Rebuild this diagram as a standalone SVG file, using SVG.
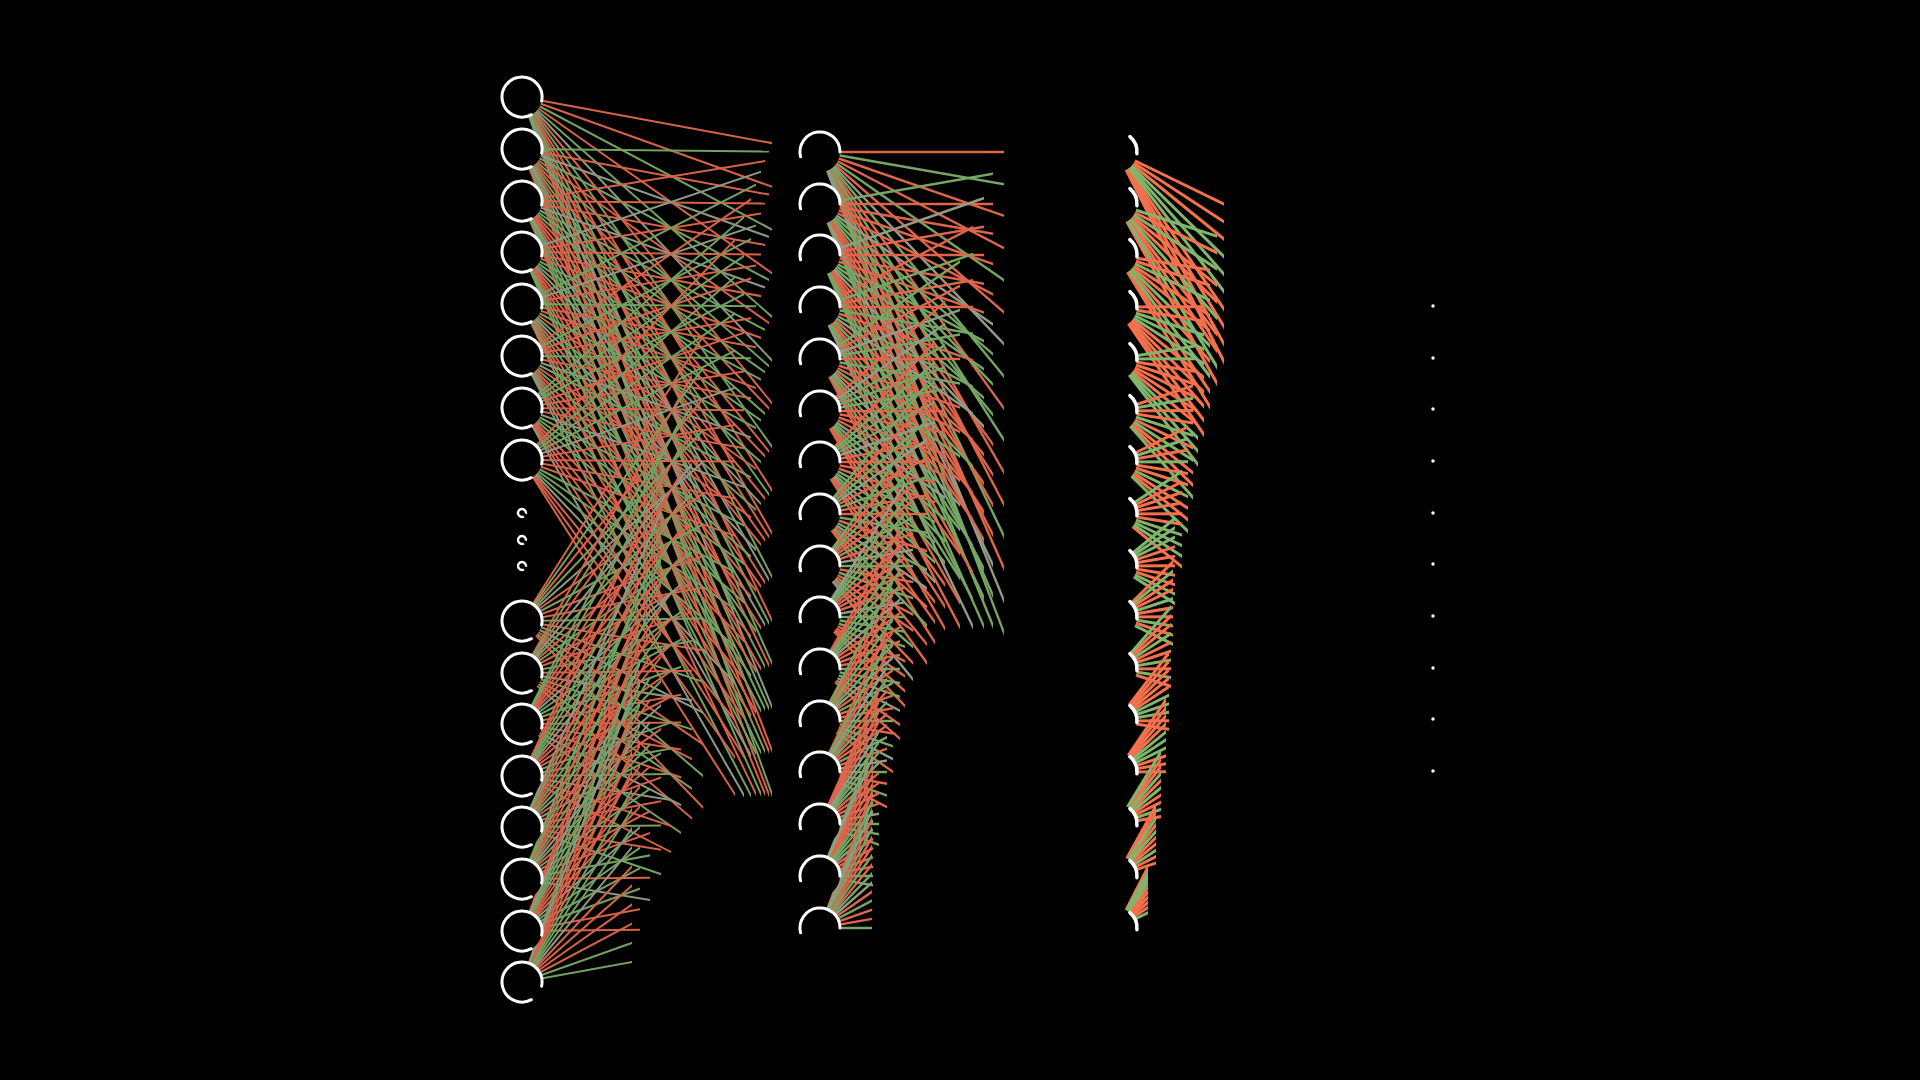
<svg xmlns="http://www.w3.org/2000/svg" xmlns:xlink="http://www.w3.org/1999/xlink" width="1920" height="1080" viewBox="0 0 1920 1080">
<style>
path{fill:none}
.r{stroke:#e96c50}
.g{stroke:#7daf6a}
.y{stroke:#9aa68f}
#b1{stroke-width:2;opacity:.92}
#b2{stroke-width:2.4;opacity:.95}
#b3{stroke-width:3}
#b3 .r{stroke:#f4714d}
#b3 .g{stroke:#80b66c}
.nf{fill:#000}
.ns{fill:none;stroke:#fff;stroke-width:3;stroke-linecap:round}
.ns3{fill:none;stroke:#fff;stroke-width:3.5;stroke-linecap:round}
.ds{fill:none;stroke:#fff;stroke-width:2.4}
.out{fill:#fff}
</style>
<defs>
<g id="n1"><circle class="nf" r="20"/><path class="ns" d="M9.4 17.7A20 20 0 1 1 19.6 4.2"/></g>
<g id="n2"><circle class="nf" r="20"/><path class="ns" d="M-19.4 4.8A20 20 0 1 1 20 0"/></g>
<g id="n3"><circle class="nf" r="20"/><path class="ns3" d="M12.9 -15.3A20 20 0 0 1 19.9 1.7"/></g>
<g id="d1"><path class="ds" d="M1.9 3.5A4 4 0 1 1 3.9 0.8"/></g>
<g id="n4"><circle class="out" r="1.7"/></g>
<clipPath id="a0"><rect width="772" height="1080"/></clipPath>
<clipPath id="a1"><rect width="769" height="1080"/></clipPath>
<clipPath id="a2"><rect width="765" height="1080"/></clipPath>
<clipPath id="a3"><rect width="761" height="1080"/></clipPath>
<clipPath id="a4"><rect width="756" height="1080"/></clipPath>
<clipPath id="a5"><rect width="751" height="1080"/></clipPath>
<clipPath id="a6"><rect width="744" height="1080"/></clipPath>
<clipPath id="a7"><rect width="735" height="1080"/></clipPath>
<clipPath id="a8"><rect width="703" height="1080"/></clipPath>
<clipPath id="a9"><rect width="692" height="1080"/></clipPath>
<clipPath id="a10"><rect width="681" height="1080"/></clipPath>
<clipPath id="a11"><rect width="671" height="1080"/></clipPath>
<clipPath id="a12"><rect width="661" height="1080"/></clipPath>
<clipPath id="a13"><rect width="650" height="1080"/></clipPath>
<clipPath id="a14"><rect width="640" height="1080"/></clipPath>
<clipPath id="a15"><rect width="632" height="1080"/></clipPath>
<clipPath id="b0c"><rect width="1004" height="1080"/></clipPath>
<clipPath id="b1c"><rect width="993" height="1080"/></clipPath>
<clipPath id="b2c"><rect width="984" height="1080"/></clipPath>
<clipPath id="b3c"><rect width="973" height="1080"/></clipPath>
<clipPath id="b4c"><rect width="960" height="1080"/></clipPath>
<clipPath id="b5c"><rect width="945" height="1080"/></clipPath>
<clipPath id="b6c"><rect width="935" height="1080"/></clipPath>
<clipPath id="b7c"><rect width="927" height="1080"/></clipPath>
<clipPath id="b8c"><rect width="913" height="1080"/></clipPath>
<clipPath id="b9c"><rect width="905" height="1080"/></clipPath>
<clipPath id="b10c"><rect width="900" height="1080"/></clipPath>
<clipPath id="b11c"><rect width="893" height="1080"/></clipPath>
<clipPath id="b12c"><rect width="887" height="1080"/></clipPath>
<clipPath id="b13c"><rect width="879" height="1080"/></clipPath>
<clipPath id="b14c"><rect width="873" height="1080"/></clipPath>
<clipPath id="b15c"><rect width="872" height="1080"/></clipPath>
<clipPath id="c0"><rect width="1224" height="1080"/></clipPath>
<clipPath id="c1"><rect width="1217" height="1080"/></clipPath>
<clipPath id="c2"><rect width="1210" height="1080"/></clipPath>
<clipPath id="c3"><rect width="1204" height="1080"/></clipPath>
<clipPath id="c4"><rect width="1198" height="1080"/></clipPath>
<clipPath id="c5"><rect width="1193" height="1080"/></clipPath>
<clipPath id="c6"><rect width="1188" height="1080"/></clipPath>
<clipPath id="c7"><rect width="1182" height="1080"/></clipPath>
<clipPath id="c8"><rect width="1175" height="1080"/></clipPath>
<clipPath id="c9"><rect width="1173" height="1080"/></clipPath>
<clipPath id="c10"><rect width="1171" height="1080"/></clipPath>
<clipPath id="c11"><rect width="1169" height="1080"/></clipPath>
<clipPath id="c12"><rect width="1166" height="1080"/></clipPath>
<clipPath id="c13"><rect width="1161" height="1080"/></clipPath>
<clipPath id="c14"><rect width="1156" height="1080"/></clipPath>
<clipPath id="c15"><rect width="1148" height="1080"/></clipPath>
</defs>
<rect width="1920" height="1080" fill="#000"/>
<g id="connectors">
<g id="b1">
<g clip-path="url(#a0)"><g class="r"><path d="M522 97L820 152"/><path d="M522 97L820 204"/><path d="M522 97L820 307"/><path d="M522 97L820 462"/><path d="M522 97L820 566"/><path d="M522 97L820 617"/><path d="M522 97L820 721"/><path d="M522 97L820 876"/></g><g class="g"><path d="M522 97L820 255"/><path d="M522 97L820 359"/><path d="M522 97L820 514"/><path d="M522 97L820 669"/><path d="M522 97L820 772"/><path d="M522 97L820 928"/></g><g class="y"><path d="M522 97L820 411"/><path d="M522 97L820 824"/></g></g>
<g clip-path="url(#a1)"><g class="r"><path d="M522 149L820 204"/><path d="M522 149L820 359"/><path d="M522 149L820 462"/><path d="M522 149L820 514"/><path d="M522 149L820 617"/><path d="M522 149L820 772"/><path d="M522 149L820 876"/><path d="M522 149L820 928"/></g><g class="g"><path d="M522 149L820 152"/><path d="M522 149L820 307"/><path d="M522 149L820 411"/><path d="M522 149L820 566"/><path d="M522 149L820 721"/><path d="M522 149L820 824"/></g><g class="y"><path d="M522 149L820 255"/><path d="M522 149L820 669"/></g></g>
<g clip-path="url(#a2)"><g class="r"><path d="M522 201L820 152"/><path d="M522 201L820 204"/><path d="M522 201L820 255"/><path d="M522 201L820 514"/><path d="M522 201L820 566"/><path d="M522 201L820 617"/><path d="M522 201L820 669"/><path d="M522 201L820 928"/></g><g class="g"><path d="M522 201L820 359"/><path d="M522 201L820 411"/><path d="M522 201L820 462"/><path d="M522 201L820 772"/><path d="M522 201L820 824"/><path d="M522 201L820 876"/></g><g class="y"><path d="M522 201L820 307"/><path d="M522 201L820 721"/></g></g>
<g clip-path="url(#a3)"><g class="r"><path d="M522 252L820 204"/><path d="M522 252L820 255"/><path d="M522 252L820 307"/><path d="M522 252L820 359"/><path d="M522 252L820 617"/><path d="M522 252L820 669"/><path d="M522 252L820 721"/><path d="M522 252L820 772"/></g><g class="g"><path d="M522 252L820 411"/><path d="M522 252L820 462"/><path d="M522 252L820 514"/><path d="M522 252L820 824"/><path d="M522 252L820 876"/><path d="M522 252L820 928"/></g><g class="y"><path d="M522 252L820 152"/><path d="M522 252L820 566"/></g></g>
<g clip-path="url(#a4)"><g class="r"><path d="M522 304L820 255"/><path d="M522 304L820 359"/><path d="M522 304L820 411"/><path d="M522 304L820 514"/><path d="M522 304L820 669"/><path d="M522 304L820 772"/><path d="M522 304L820 824"/><path d="M522 304L820 928"/></g><g class="g"><path d="M522 304L820 152"/><path d="M522 304L820 307"/><path d="M522 304L820 462"/><path d="M522 304L820 566"/><path d="M522 304L820 721"/><path d="M522 304L820 876"/></g><g class="y"><path d="M522 304L820 204"/><path d="M522 304L820 617"/></g></g>
<g clip-path="url(#a5)"><g class="r"><path d="M522 356L820 152"/><path d="M522 356L820 255"/><path d="M522 356L820 307"/><path d="M522 356L820 411"/><path d="M522 356L820 566"/><path d="M522 356L820 669"/><path d="M522 356L820 721"/><path d="M522 356L820 824"/></g><g class="g"><path d="M522 356L820 204"/><path d="M522 356L820 359"/><path d="M522 356L820 514"/><path d="M522 356L820 617"/><path d="M522 356L820 772"/><path d="M522 356L820 928"/></g><g class="y"><path d="M522 356L820 462"/><path d="M522 356L820 876"/></g></g>
<g clip-path="url(#a6)"><g class="r"><path d="M522 408L820 307"/><path d="M522 408L820 359"/><path d="M522 408L820 411"/><path d="M522 408L820 462"/><path d="M522 408L820 721"/><path d="M522 408L820 772"/><path d="M522 408L820 824"/><path d="M522 408L820 876"/></g><g class="g"><path d="M522 408L820 152"/><path d="M522 408L820 204"/><path d="M522 408L820 255"/><path d="M522 408L820 566"/><path d="M522 408L820 617"/><path d="M522 408L820 669"/></g><g class="y"><path d="M522 408L820 514"/><path d="M522 408L820 928"/></g></g>
<g clip-path="url(#a7)"><g class="r"><path d="M522 460L820 152"/><path d="M522 460L820 411"/><path d="M522 460L820 462"/><path d="M522 460L820 514"/><path d="M522 460L820 566"/><path d="M522 460L820 824"/><path d="M522 460L820 876"/><path d="M522 460L820 928"/></g><g class="g"><path d="M522 460L820 204"/><path d="M522 460L820 255"/><path d="M522 460L820 307"/><path d="M522 460L820 617"/><path d="M522 460L820 669"/><path d="M522 460L820 721"/></g><g class="y"><path d="M522 460L820 359"/><path d="M522 460L820 772"/></g></g>
<g clip-path="url(#a8)"><g class="r"><path d="M522 621L820 152"/><path d="M522 621L820 255"/><path d="M522 621L820 411"/><path d="M522 621L820 514"/><path d="M522 621L820 566"/><path d="M522 621L820 669"/><path d="M522 621L820 824"/><path d="M522 621L820 928"/></g><g class="g"><path d="M522 621L820 204"/><path d="M522 621L820 307"/><path d="M522 621L820 462"/><path d="M522 621L820 617"/><path d="M522 621L820 721"/><path d="M522 621L820 876"/></g><g class="y"><path d="M522 621L820 359"/><path d="M522 621L820 772"/></g></g>
<g clip-path="url(#a9)"><g class="r"><path d="M522 673L820 152"/><path d="M522 673L820 255"/><path d="M522 673L820 411"/><path d="M522 673L820 514"/><path d="M522 673L820 566"/><path d="M522 673L820 669"/><path d="M522 673L820 824"/><path d="M522 673L820 928"/></g><g class="g"><path d="M522 673L820 204"/><path d="M522 673L820 359"/><path d="M522 673L820 462"/><path d="M522 673L820 617"/><path d="M522 673L820 772"/><path d="M522 673L820 876"/></g><g class="y"><path d="M522 673L820 307"/><path d="M522 673L820 721"/></g></g>
<g clip-path="url(#a10)"><g class="r"><path d="M522 724L820 255"/><path d="M522 724L820 307"/><path d="M522 724L820 359"/><path d="M522 724L820 411"/><path d="M522 724L820 669"/><path d="M522 724L820 721"/><path d="M522 724L820 772"/><path d="M522 724L820 824"/></g><g class="g"><path d="M522 724L820 152"/><path d="M522 724L820 204"/><path d="M522 724L820 514"/><path d="M522 724L820 566"/><path d="M522 724L820 617"/><path d="M522 724L820 928"/></g><g class="y"><path d="M522 724L820 462"/><path d="M522 724L820 876"/></g></g>
<g clip-path="url(#a11)"><g class="r"><path d="M522 776L820 152"/><path d="M522 776L820 204"/><path d="M522 776L820 462"/><path d="M522 776L820 514"/><path d="M522 776L820 566"/><path d="M522 776L820 617"/><path d="M522 776L820 876"/><path d="M522 776L820 928"/></g><g class="g"><path d="M522 776L820 255"/><path d="M522 776L820 307"/><path d="M522 776L820 359"/><path d="M522 776L820 669"/><path d="M522 776L820 721"/><path d="M522 776L820 772"/></g><g class="y"><path d="M522 776L820 411"/><path d="M522 776L820 824"/></g></g>
<g clip-path="url(#a12)"><g class="r"><path d="M522 827L820 204"/><path d="M522 827L820 307"/><path d="M522 827L820 359"/><path d="M522 827L820 462"/><path d="M522 827L820 617"/><path d="M522 827L820 721"/><path d="M522 827L820 772"/><path d="M522 827L820 876"/></g><g class="g"><path d="M522 827L820 255"/><path d="M522 827L820 411"/><path d="M522 827L820 514"/><path d="M522 827L820 669"/><path d="M522 827L820 824"/><path d="M522 827L820 928"/></g><g class="y"><path d="M522 827L820 152"/><path d="M522 827L820 566"/></g></g>
<g clip-path="url(#a13)"><g class="r"><path d="M522 879L820 204"/><path d="M522 879L820 307"/><path d="M522 879L820 359"/><path d="M522 879L820 462"/><path d="M522 879L820 617"/><path d="M522 879L820 721"/><path d="M522 879L820 772"/><path d="M522 879L820 876"/></g><g class="g"><path d="M522 879L820 152"/><path d="M522 879L820 255"/><path d="M522 879L820 411"/><path d="M522 879L820 566"/><path d="M522 879L820 669"/><path d="M522 879L820 824"/></g><g class="y"><path d="M522 879L820 514"/><path d="M522 879L820 928"/></g></g>
<g clip-path="url(#a14)"><g class="r"><path d="M522 931L820 152"/><path d="M522 931L820 204"/><path d="M522 931L820 462"/><path d="M522 931L820 514"/><path d="M522 931L820 566"/><path d="M522 931L820 617"/><path d="M522 931L820 876"/><path d="M522 931L820 928"/></g><g class="g"><path d="M522 931L820 307"/><path d="M522 931L820 359"/><path d="M522 931L820 411"/><path d="M522 931L820 721"/><path d="M522 931L820 772"/><path d="M522 931L820 824"/></g><g class="y"><path d="M522 931L820 255"/><path d="M522 931L820 669"/></g></g>
<g clip-path="url(#a15)"><g class="r"><path d="M522 982L820 255"/><path d="M522 982L820 307"/><path d="M522 982L820 359"/><path d="M522 982L820 411"/><path d="M522 982L820 669"/><path d="M522 982L820 721"/><path d="M522 982L820 772"/><path d="M522 982L820 824"/></g><g class="g"><path d="M522 982L820 152"/><path d="M522 982L820 462"/><path d="M522 982L820 514"/><path d="M522 982L820 566"/><path d="M522 982L820 876"/><path d="M522 982L820 928"/></g><g class="y"><path d="M522 982L820 204"/><path d="M522 982L820 617"/></g></g>
</g>
<g id="b2">
<g clip-path="url(#b0c)"><g class="r"><path d="M820 152L1117 152"/><path d="M820 152L1117 255"/><path d="M820 152L1117 307"/><path d="M820 152L1117 411"/><path d="M820 152L1117 566"/><path d="M820 152L1117 669"/><path d="M820 152L1117 721"/><path d="M820 152L1117 824"/></g><g class="g"><path d="M820 152L1117 204"/><path d="M820 152L1117 359"/><path d="M820 152L1117 514"/><path d="M820 152L1117 617"/><path d="M820 152L1117 772"/><path d="M820 152L1117 928"/></g><g class="y"><path d="M820 152L1117 462"/><path d="M820 152L1117 876"/></g></g>
<g clip-path="url(#b1c)"><g class="r"><path d="M820 204L1117 204"/><path d="M820 204L1117 255"/><path d="M820 204L1117 307"/><path d="M820 204L1117 359"/><path d="M820 204L1117 617"/><path d="M820 204L1117 669"/><path d="M820 204L1117 721"/><path d="M820 204L1117 772"/></g><g class="g"><path d="M820 204L1117 152"/><path d="M820 204L1117 462"/><path d="M820 204L1117 514"/><path d="M820 204L1117 566"/><path d="M820 204L1117 876"/><path d="M820 204L1117 928"/></g><g class="y"><path d="M820 204L1117 411"/><path d="M820 204L1117 824"/></g></g>
<g clip-path="url(#b2c)"><g class="r"><path d="M820 255L1117 204"/><path d="M820 255L1117 255"/><path d="M820 255L1117 307"/><path d="M820 255L1117 359"/><path d="M820 255L1117 617"/><path d="M820 255L1117 669"/><path d="M820 255L1117 721"/><path d="M820 255L1117 772"/></g><g class="g"><path d="M820 255L1117 411"/><path d="M820 255L1117 462"/><path d="M820 255L1117 514"/><path d="M820 255L1117 824"/><path d="M820 255L1117 876"/><path d="M820 255L1117 928"/></g><g class="y"><path d="M820 255L1117 152"/><path d="M820 255L1117 566"/></g></g>
<g clip-path="url(#b3c)"><g class="r"><path d="M820 307L1117 152"/><path d="M820 307L1117 255"/><path d="M820 307L1117 307"/><path d="M820 307L1117 411"/><path d="M820 307L1117 566"/><path d="M820 307L1117 669"/><path d="M820 307L1117 721"/><path d="M820 307L1117 824"/></g><g class="g"><path d="M820 307L1117 204"/><path d="M820 307L1117 359"/><path d="M820 307L1117 462"/><path d="M820 307L1117 617"/><path d="M820 307L1117 772"/><path d="M820 307L1117 876"/></g><g class="y"><path d="M820 307L1117 514"/><path d="M820 307L1117 928"/></g></g>
<g clip-path="url(#b4c)"><g class="r"><path d="M820 359L1117 204"/><path d="M820 359L1117 359"/><path d="M820 359L1117 462"/><path d="M820 359L1117 514"/><path d="M820 359L1117 617"/><path d="M820 359L1117 772"/><path d="M820 359L1117 876"/><path d="M820 359L1117 928"/></g><g class="g"><path d="M820 359L1117 152"/><path d="M820 359L1117 307"/><path d="M820 359L1117 411"/><path d="M820 359L1117 566"/><path d="M820 359L1117 721"/><path d="M820 359L1117 824"/></g><g class="y"><path d="M820 359L1117 255"/><path d="M820 359L1117 669"/></g></g>
<g clip-path="url(#b5c)"><g class="r"><path d="M820 411L1117 152"/><path d="M820 411L1117 411"/><path d="M820 411L1117 462"/><path d="M820 411L1117 514"/><path d="M820 411L1117 566"/><path d="M820 411L1117 824"/><path d="M820 411L1117 876"/><path d="M820 411L1117 928"/></g><g class="g"><path d="M820 411L1117 255"/><path d="M820 411L1117 307"/><path d="M820 411L1117 359"/><path d="M820 411L1117 669"/><path d="M820 411L1117 721"/><path d="M820 411L1117 772"/></g><g class="y"><path d="M820 411L1117 204"/><path d="M820 411L1117 617"/></g></g>
<g clip-path="url(#b6c)"><g class="r"><path d="M820 462L1117 152"/><path d="M820 462L1117 411"/><path d="M820 462L1117 462"/><path d="M820 462L1117 514"/><path d="M820 462L1117 566"/><path d="M820 462L1117 824"/><path d="M820 462L1117 876"/><path d="M820 462L1117 928"/></g><g class="g"><path d="M820 462L1117 204"/><path d="M820 462L1117 255"/><path d="M820 462L1117 307"/><path d="M820 462L1117 617"/><path d="M820 462L1117 669"/><path d="M820 462L1117 721"/></g><g class="y"><path d="M820 462L1117 359"/><path d="M820 462L1117 772"/></g></g>
<g clip-path="url(#b7c)"><g class="r"><path d="M820 514L1117 204"/><path d="M820 514L1117 359"/><path d="M820 514L1117 462"/><path d="M820 514L1117 514"/><path d="M820 514L1117 617"/><path d="M820 514L1117 772"/><path d="M820 514L1117 876"/><path d="M820 514L1117 928"/></g><g class="g"><path d="M820 514L1117 152"/><path d="M820 514L1117 255"/><path d="M820 514L1117 411"/><path d="M820 514L1117 566"/><path d="M820 514L1117 669"/><path d="M820 514L1117 824"/></g><g class="y"><path d="M820 514L1117 307"/><path d="M820 514L1117 721"/></g></g>
<g clip-path="url(#b8c)"><g class="r"><path d="M820 566L1117 204"/><path d="M820 566L1117 307"/><path d="M820 566L1117 359"/><path d="M820 566L1117 462"/><path d="M820 566L1117 617"/><path d="M820 566L1117 721"/><path d="M820 566L1117 772"/><path d="M820 566L1117 876"/></g><g class="g"><path d="M820 566L1117 152"/><path d="M820 566L1117 255"/><path d="M820 566L1117 411"/><path d="M820 566L1117 566"/><path d="M820 566L1117 669"/><path d="M820 566L1117 824"/></g><g class="y"><path d="M820 566L1117 514"/><path d="M820 566L1117 928"/></g></g>
<g clip-path="url(#b9c)"><g class="r"><path d="M820 617L1117 359"/><path d="M820 617L1117 411"/><path d="M820 617L1117 462"/><path d="M820 617L1117 514"/><path d="M820 617L1117 772"/><path d="M820 617L1117 824"/><path d="M820 617L1117 876"/><path d="M820 617L1117 928"/></g><g class="g"><path d="M820 617L1117 204"/><path d="M820 617L1117 255"/><path d="M820 617L1117 307"/><path d="M820 617L1117 617"/><path d="M820 617L1117 669"/><path d="M820 617L1117 721"/></g><g class="y"><path d="M820 617L1117 152"/><path d="M820 617L1117 566"/></g></g>
<g clip-path="url(#b10c)"><g class="r"><path d="M820 669L1117 152"/><path d="M820 669L1117 204"/><path d="M820 669L1117 462"/><path d="M820 669L1117 514"/><path d="M820 669L1117 566"/><path d="M820 669L1117 617"/><path d="M820 669L1117 876"/><path d="M820 669L1117 928"/></g><g class="g"><path d="M820 669L1117 255"/><path d="M820 669L1117 307"/><path d="M820 669L1117 359"/><path d="M820 669L1117 669"/><path d="M820 669L1117 721"/><path d="M820 669L1117 772"/></g><g class="y"><path d="M820 669L1117 411"/><path d="M820 669L1117 824"/></g></g>
<g clip-path="url(#b11c)"><g class="r"><path d="M820 721L1117 204"/><path d="M820 721L1117 255"/><path d="M820 721L1117 359"/><path d="M820 721L1117 514"/><path d="M820 721L1117 617"/><path d="M820 721L1117 669"/><path d="M820 721L1117 772"/><path d="M820 721L1117 928"/></g><g class="g"><path d="M820 721L1117 152"/><path d="M820 721L1117 307"/><path d="M820 721L1117 411"/><path d="M820 721L1117 566"/><path d="M820 721L1117 721"/><path d="M820 721L1117 824"/></g><g class="y"><path d="M820 721L1117 462"/><path d="M820 721L1117 876"/></g></g>
<g clip-path="url(#b12c)"><g class="r"><path d="M820 772L1117 152"/><path d="M820 772L1117 255"/><path d="M820 772L1117 411"/><path d="M820 772L1117 514"/><path d="M820 772L1117 566"/><path d="M820 772L1117 669"/><path d="M820 772L1117 824"/><path d="M820 772L1117 928"/></g><g class="g"><path d="M820 772L1117 204"/><path d="M820 772L1117 359"/><path d="M820 772L1117 462"/><path d="M820 772L1117 617"/><path d="M820 772L1117 772"/><path d="M820 772L1117 876"/></g><g class="y"><path d="M820 772L1117 307"/><path d="M820 772L1117 721"/></g></g>
<g clip-path="url(#b13c)"><g class="r"><path d="M820 824L1117 152"/><path d="M820 824L1117 204"/><path d="M820 824L1117 255"/><path d="M820 824L1117 307"/><path d="M820 824L1117 566"/><path d="M820 824L1117 617"/><path d="M820 824L1117 669"/><path d="M820 824L1117 721"/></g><g class="g"><path d="M820 824L1117 411"/><path d="M820 824L1117 462"/><path d="M820 824L1117 514"/><path d="M820 824L1117 824"/><path d="M820 824L1117 876"/><path d="M820 824L1117 928"/></g><g class="y"><path d="M820 824L1117 359"/><path d="M820 824L1117 772"/></g></g>
<g clip-path="url(#b14c)"><g class="r"><path d="M820 876L1117 255"/><path d="M820 876L1117 307"/><path d="M820 876L1117 359"/><path d="M820 876L1117 411"/><path d="M820 876L1117 669"/><path d="M820 876L1117 721"/><path d="M820 876L1117 772"/><path d="M820 876L1117 824"/></g><g class="g"><path d="M820 876L1117 152"/><path d="M820 876L1117 462"/><path d="M820 876L1117 514"/><path d="M820 876L1117 566"/><path d="M820 876L1117 876"/><path d="M820 876L1117 928"/></g><g class="y"><path d="M820 876L1117 204"/><path d="M820 876L1117 617"/></g></g>
<g clip-path="url(#b15c)"><g class="r"><path d="M820 928L1117 152"/><path d="M820 928L1117 307"/><path d="M820 928L1117 411"/><path d="M820 928L1117 462"/><path d="M820 928L1117 566"/><path d="M820 928L1117 721"/><path d="M820 928L1117 824"/><path d="M820 928L1117 876"/></g><g class="g"><path d="M820 928L1117 204"/><path d="M820 928L1117 359"/><path d="M820 928L1117 514"/><path d="M820 928L1117 617"/><path d="M820 928L1117 772"/><path d="M820 928L1117 928"/></g><g class="y"><path d="M820 928L1117 255"/><path d="M820 928L1117 669"/></g></g>
</g>
<g id="b3">
<g clip-path="url(#c0)"><g class="r"><path d="M1117 152L1433 306"/><path d="M1117 152L1433 358"/><path d="M1117 152L1433 409"/><path d="M1117 152L1433 616"/><path d="M1117 152L1433 668"/><path d="M1117 152L1433 719"/><path d="M1117 152L1433 771"/></g><g class="g"><path d="M1117 152L1433 461"/><path d="M1117 152L1433 513"/><path d="M1117 152L1433 564"/></g></g>
<g clip-path="url(#c1)"><g class="r"><path d="M1117 204L1433 358"/><path d="M1117 204L1433 461"/><path d="M1117 204L1433 513"/><path d="M1117 204L1433 616"/><path d="M1117 204L1433 668"/><path d="M1117 204L1433 771"/></g><g class="g"><path d="M1117 204L1433 306"/><path d="M1117 204L1433 409"/><path d="M1117 204L1433 564"/><path d="M1117 204L1433 719"/></g></g>
<g clip-path="url(#c2)"><g class="r"><path d="M1117 255L1433 306"/><path d="M1117 255L1433 358"/><path d="M1117 255L1433 461"/><path d="M1117 255L1433 513"/><path d="M1117 255L1433 616"/><path d="M1117 255L1433 719"/><path d="M1117 255L1433 771"/></g><g class="g"><path d="M1117 255L1433 409"/><path d="M1117 255L1433 564"/><path d="M1117 255L1433 668"/></g></g>
<g clip-path="url(#c3)"><g class="r"><path d="M1117 307L1433 306"/><path d="M1117 307L1433 358"/><path d="M1117 307L1433 564"/><path d="M1117 307L1433 616"/><path d="M1117 307L1433 668"/><path d="M1117 307L1433 719"/><path d="M1117 307L1433 771"/></g><g class="g"><path d="M1117 307L1433 409"/><path d="M1117 307L1433 461"/><path d="M1117 307L1433 513"/></g></g>
<g clip-path="url(#c4)"><g class="r"><path d="M1117 359L1433 409"/><path d="M1117 359L1433 461"/><path d="M1117 359L1433 513"/><path d="M1117 359L1433 564"/><path d="M1117 359L1433 616"/></g><g class="g"><path d="M1117 359L1433 306"/><path d="M1117 359L1433 358"/><path d="M1117 359L1433 668"/><path d="M1117 359L1433 719"/><path d="M1117 359L1433 771"/></g></g>
<g clip-path="url(#c5)"><g class="r"><path d="M1117 411L1433 306"/><path d="M1117 411L1433 409"/><path d="M1117 411L1433 461"/><path d="M1117 411L1433 564"/><path d="M1117 411L1433 668"/><path d="M1117 411L1433 719"/></g><g class="g"><path d="M1117 411L1433 358"/><path d="M1117 411L1433 513"/><path d="M1117 411L1433 616"/><path d="M1117 411L1433 771"/></g></g>
<g clip-path="url(#c6)"><g class="r"><path d="M1117 462L1433 306"/><path d="M1117 462L1433 409"/><path d="M1117 462L1433 513"/><path d="M1117 462L1433 564"/><path d="M1117 462L1433 668"/><path d="M1117 462L1433 719"/></g><g class="g"><path d="M1117 462L1433 358"/><path d="M1117 462L1433 461"/><path d="M1117 462L1433 616"/><path d="M1117 462L1433 771"/></g></g>
<g clip-path="url(#c7)"><g class="r"><path d="M1117 514L1433 358"/><path d="M1117 514L1433 409"/><path d="M1117 514L1433 461"/><path d="M1117 514L1433 513"/><path d="M1117 514L1433 564"/><path d="M1117 514L1433 771"/></g><g class="g"><path d="M1117 514L1433 306"/><path d="M1117 514L1433 616"/><path d="M1117 514L1433 668"/><path d="M1117 514L1433 719"/></g></g>
<g clip-path="url(#c8)"><g class="r"><path d="M1117 566L1433 461"/><path d="M1117 566L1433 513"/><path d="M1117 566L1433 564"/><path d="M1117 566L1433 616"/><path d="M1117 566L1433 668"/></g><g class="g"><path d="M1117 566L1433 306"/><path d="M1117 566L1433 358"/><path d="M1117 566L1433 409"/><path d="M1117 566L1433 719"/><path d="M1117 566L1433 771"/></g></g>
<g clip-path="url(#c9)"><g class="r"><path d="M1117 617L1433 306"/><path d="M1117 617L1433 409"/><path d="M1117 617L1433 461"/><path d="M1117 617L1433 564"/><path d="M1117 617L1433 616"/><path d="M1117 617L1433 719"/></g><g class="g"><path d="M1117 617L1433 358"/><path d="M1117 617L1433 513"/><path d="M1117 617L1433 668"/><path d="M1117 617L1433 771"/></g></g>
<g clip-path="url(#c10)"><g class="r"><path d="M1117 669L1433 358"/><path d="M1117 669L1433 409"/><path d="M1117 669L1433 513"/><path d="M1117 669L1433 564"/><path d="M1117 669L1433 668"/><path d="M1117 669L1433 771"/></g><g class="g"><path d="M1117 669L1433 306"/><path d="M1117 669L1433 461"/><path d="M1117 669L1433 616"/><path d="M1117 669L1433 719"/></g></g>
<g clip-path="url(#c11)"><g class="r"><path d="M1117 721L1433 306"/><path d="M1117 721L1433 358"/><path d="M1117 721L1433 409"/><path d="M1117 721L1433 461"/><path d="M1117 721L1433 513"/><path d="M1117 721L1433 719"/><path d="M1117 721L1433 771"/></g><g class="g"><path d="M1117 721L1433 564"/><path d="M1117 721L1433 616"/><path d="M1117 721L1433 668"/></g></g>
<g clip-path="url(#c12)"><g class="r"><path d="M1117 772L1433 306"/><path d="M1117 772L1433 358"/><path d="M1117 772L1433 409"/><path d="M1117 772L1433 461"/><path d="M1117 772L1433 668"/><path d="M1117 772L1433 719"/><path d="M1117 772L1433 771"/></g><g class="g"><path d="M1117 772L1433 513"/><path d="M1117 772L1433 564"/><path d="M1117 772L1433 616"/></g></g>
<g clip-path="url(#c13)"><g class="r"><path d="M1117 824L1433 358"/><path d="M1117 824L1433 409"/><path d="M1117 824L1433 513"/><path d="M1117 824L1433 616"/><path d="M1117 824L1433 668"/><path d="M1117 824L1433 771"/></g><g class="g"><path d="M1117 824L1433 306"/><path d="M1117 824L1433 461"/><path d="M1117 824L1433 564"/><path d="M1117 824L1433 719"/></g></g>
<g clip-path="url(#c14)"><g class="r"><path d="M1117 876L1433 306"/><path d="M1117 876L1433 358"/><path d="M1117 876L1433 461"/><path d="M1117 876L1433 564"/><path d="M1117 876L1433 616"/><path d="M1117 876L1433 719"/><path d="M1117 876L1433 771"/></g><g class="g"><path d="M1117 876L1433 409"/><path d="M1117 876L1433 513"/><path d="M1117 876L1433 668"/></g></g>
<g clip-path="url(#c15)"><g class="r"><path d="M1117 928L1433 306"/><path d="M1117 928L1433 513"/><path d="M1117 928L1433 564"/><path d="M1117 928L1433 616"/><path d="M1117 928L1433 668"/><path d="M1117 928L1433 719"/></g><g class="g"><path d="M1117 928L1433 358"/><path d="M1117 928L1433 409"/><path d="M1117 928L1433 461"/><path d="M1117 928L1433 771"/></g></g>
</g>
</g>
<g id="layer1">
<g id="l1n0"><use href="#n1" x="522" y="97"/></g>
<g id="l1n1"><use href="#n1" x="522" y="149"/></g>
<g id="l1n2"><use href="#n1" x="522" y="201"/></g>
<g id="l1n3"><use href="#n1" x="522" y="252"/></g>
<g id="l1n4"><use href="#n1" x="522" y="304"/></g>
<g id="l1n5"><use href="#n1" x="522" y="356"/></g>
<g id="l1n6"><use href="#n1" x="522" y="408"/></g>
<g id="l1n7"><use href="#n1" x="522" y="460"/></g>
<g id="l1dots"><use href="#d1" x="522" y="513"/><use href="#d1" x="522" y="540"/><use href="#d1" x="522" y="566"/></g>
<g id="l1n8"><use href="#n1" x="522" y="621"/></g>
<g id="l1n9"><use href="#n1" x="522" y="673"/></g>
<g id="l1n10"><use href="#n1" x="522" y="724"/></g>
<g id="l1n11"><use href="#n1" x="522" y="776"/></g>
<g id="l1n12"><use href="#n1" x="522" y="827"/></g>
<g id="l1n13"><use href="#n1" x="522" y="879"/></g>
<g id="l1n14"><use href="#n1" x="522" y="931"/></g>
<g id="l1n15"><use href="#n1" x="522" y="982"/></g>
</g>
<g id="layer2">
<g id="l2n0"><use href="#n2" x="820" y="152"/></g>
<g id="l2n1"><use href="#n2" x="820" y="204"/></g>
<g id="l2n2"><use href="#n2" x="820" y="255"/></g>
<g id="l2n3"><use href="#n2" x="820" y="307"/></g>
<g id="l2n4"><use href="#n2" x="820" y="359"/></g>
<g id="l2n5"><use href="#n2" x="820" y="411"/></g>
<g id="l2n6"><use href="#n2" x="820" y="462"/></g>
<g id="l2n7"><use href="#n2" x="820" y="514"/></g>
<g id="l2n8"><use href="#n2" x="820" y="566"/></g>
<g id="l2n9"><use href="#n2" x="820" y="617"/></g>
<g id="l2n10"><use href="#n2" x="820" y="669"/></g>
<g id="l2n11"><use href="#n2" x="820" y="721"/></g>
<g id="l2n12"><use href="#n2" x="820" y="772"/></g>
<g id="l2n13"><use href="#n2" x="820" y="824"/></g>
<g id="l2n14"><use href="#n2" x="820" y="876"/></g>
<g id="l2n15"><use href="#n2" x="820" y="928"/></g>
</g>
<g id="layer3">
<g id="l3n0"><use href="#n3" x="1117" y="152"/></g>
<g id="l3n1"><use href="#n3" x="1117" y="204"/></g>
<g id="l3n2"><use href="#n3" x="1117" y="255"/></g>
<g id="l3n3"><use href="#n3" x="1117" y="307"/></g>
<g id="l3n4"><use href="#n3" x="1117" y="359"/></g>
<g id="l3n5"><use href="#n3" x="1117" y="411"/></g>
<g id="l3n6"><use href="#n3" x="1117" y="462"/></g>
<g id="l3n7"><use href="#n3" x="1117" y="514"/></g>
<g id="l3n8"><use href="#n3" x="1117" y="566"/></g>
<g id="l3n9"><use href="#n3" x="1117" y="617"/></g>
<g id="l3n10"><use href="#n3" x="1117" y="669"/></g>
<g id="l3n11"><use href="#n3" x="1117" y="721"/></g>
<g id="l3n12"><use href="#n3" x="1117" y="772"/></g>
<g id="l3n13"><use href="#n3" x="1117" y="824"/></g>
<g id="l3n14"><use href="#n3" x="1117" y="876"/></g>
<g id="l3n15"><use href="#n3" x="1117" y="928"/></g>
</g>
<g id="layer4">
<g id="l4n0"><use href="#n4" x="1433" y="306"/></g>
<g id="l4n1"><use href="#n4" x="1433" y="358"/></g>
<g id="l4n2"><use href="#n4" x="1433" y="409"/></g>
<g id="l4n3"><use href="#n4" x="1433" y="461"/></g>
<g id="l4n4"><use href="#n4" x="1433" y="513"/></g>
<g id="l4n5"><use href="#n4" x="1433" y="564"/></g>
<g id="l4n6"><use href="#n4" x="1433" y="616"/></g>
<g id="l4n7"><use href="#n4" x="1433" y="668"/></g>
<g id="l4n8"><use href="#n4" x="1433" y="719"/></g>
<g id="l4n9"><use href="#n4" x="1433" y="771"/></g>
</g>
</svg>
